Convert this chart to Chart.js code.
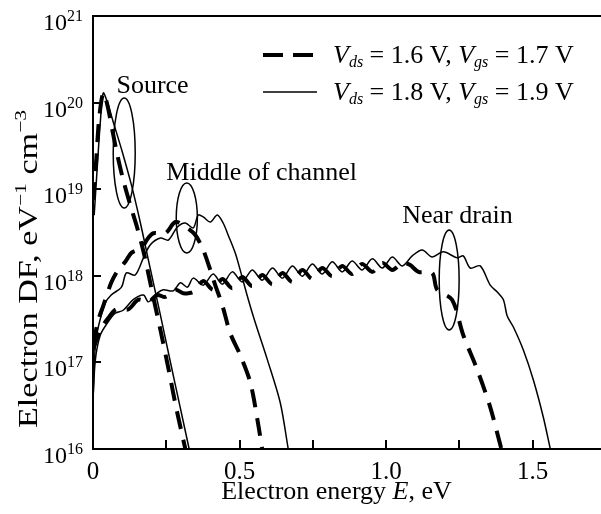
<!DOCTYPE html>
<html><head><meta charset="utf-8">
<script src="https://cdn.jsdelivr.net/npm/chart.js@4.4.1/dist/chart.umd.min.js"></script>
<style>
html,body{margin:0;padding:0;background:#fff;overflow:hidden;width:601px;height:514px}
#wrap{position:absolute;left:0;top:0;width:606px;height:514px}
</style>
</head><body><div id="wrap"><canvas id="c" width="606" height="514"></canvas></div>
<script>
// ---------------- data ----------------
const seriesLabels = ['V_ds = 1.6 V, V_gs = 1.7 V', 'V_ds = 1.8 V, V_gs = 1.9 V'];

// Source, dashed (Vds=1.6, Vgs=1.7)
const sourceDashedE  = [0, 0.011, 0.021, 0.035, 0.049, 0.066, 0.083, 0.103, 0.127, 0.151, 0.175, 0.202, 0.230, 0.257, 0.284, 0.315];
const sourceDashedDF = [7.5e18, 2.17e19, 6.6e19, 1.29e20, 9.4e19, 4.8e19, 2.48e19, 1.28e19, 6.6e18, 3.57e18, 1.74e18, 6.5e17, 2.37e17, 8.6e16, 2.97e16, 1e16];

// Source, solid (Vds=1.8, Vgs=1.9)
const sourceSolidE  = [0.004, 0.015, 0.025, 0.035, 0.052, 0.069, 0.100, 0.131, 0.161, 0.189, 0.230, 0.264, 0.298, 0.328];
const sourceSolidDF = [5.0e18, 1.9e19, 5.97e19, 1.29e20, 9.4e19, 5.97e19, 2.69e19, 1.12e19, 4.18e18, 1.52e18, 3.52e17, 1.01e17, 2.97e16, 1e16];

// Middle of channel, dashed
const middleDashedE  = [0, 0.018, 0.035, 0.062, 0.086, 0.110, 0.131, 0.165, 0.189, 0.206, 0.247, 0.281, 0.315, 0.349, 0.376, 0.400, 0.417, 0.441, 0.468, 0.502, 0.537, 0.564, 0.577];
const middleDashedDF = [1.59e17, 3.09e17, 4.5e17, 8.3e17, 1.17e18, 1.45e18, 1.84e18, 2.1e18, 2.75e18, 3.1e18, 3.1e18, 4.18e18, 3.7e18, 2.96e18, 1.99e18, 1.17e18, 7.8e17, 4.6e17, 2.18e17, 1.22e17, 5.8e16, 1.89e16, 1e16];

// Middle of channel, solid
const middleSolidE  = [0, 0.008, 0.018, 0.042, 0.062, 0.097, 0.114, 0.144, 0.172, 0.195, 0.230, 0.257, 0.288, 0.315, 0.342, 0.359, 0.376, 0.400, 0.424, 0.444, 0.461, 0.485, 0.502, 0.530, 0.554, 0.595, 0.639, 0.666];
const middleSolidDF = [3.7e16, 1.59e17, 2.56e17, 4.85e17, 6.0e17, 7.4e17, 1.08e18, 1.02e18, 1.61e18, 2.27e18, 2.73e18, 2.59e18, 3.66e18, 4.07e18, 3.57e18, 5.04e18, 4.78e18, 4.18e18, 5.04e18, 4.07e18, 2.96e18, 1.84e18, 1.17e18, 5.3e17, 2.85e17, 1.07e17, 3.4e16, 1e16];

// Near drain, dashed
const drainDashedE  = [0, 0.025, 0.052, 0.079, 0.120, 0.155, 0.189, 0.219, 0.247, 0.281, 0.308, 0.342, 0.376, 0.410, 0.441, 0.475, 0.509, 0.543, 0.577, 0.612, 0.646, 0.680, 0.714, 0.748, 0.782, 0.816, 0.850, 0.884, 0.918, 0.953, 0.987, 1.021, 1.055, 1.082, 1.110, 1.157, 1.174, 1.225, 1.263, 1.311, 1.355, 1.393];
const drainDashedDF = [1.39e17, 2.37e17, 3.25e17, 4.1e17, 4.1e17, 5.3e17, 5.0e17, 6.0e17, 5.7e17, 6.9e17, 6.3e17, 6.5e17, 8.7e17, 6.9e17, 9.2e17, 7.2e17, 9.7e17, 7.6e17, 1.02e18, 8.0e17, 1.08e18, 8.5e17, 1.17e18, 9.2e17, 1.23e18, 9.9e17, 1.30e18, 1.05e18, 1.37e18, 1.11e18, 1.41e18, 1.17e18, 1.41e18, 1.33e18, 1.11e18, 1.08e18, 6.9e17, 5.3e17, 2.07e17, 8.2e16, 3.05e16, 1e16];

// Near drain, solid
const drainSolidE  = [0, 0.008, 0.025, 0.049, 0.076, 0.103, 0.137, 0.172, 0.189, 0.219, 0.240, 0.274, 0.298, 0.322, 0.342, 0.376, 0.410, 0.441, 0.475, 0.509, 0.543, 0.577, 0.612, 0.646, 0.680, 0.714, 0.748, 0.782, 0.816, 0.850, 0.884, 0.918, 0.953, 0.987, 1.021, 1.055, 1.089, 1.123, 1.157, 1.195, 1.243, 1.263, 1.287, 1.321, 1.355, 1.379, 1.400, 1.413, 1.434, 1.468, 1.502, 1.536, 1.560];
const drainSolidDF = [3.7e16, 1.07e17, 2.07e17, 2.85e17, 3.7e17, 4.0e17, 5.3e17, 6.0e17, 5.0e17, 6.3e17, 6.9e17, 6.7e17, 8.3e17, 7.4e17, 9.4e17, 7.8e17, 1.05e18, 8.0e17, 1.11e18, 8.5e17, 1.17e18, 8.9e17, 1.23e18, 9.4e17, 1.30e18, 9.9e17, 1.37e18, 1.05e18, 1.45e18, 1.11e18, 1.48e18, 1.17e18, 1.57e18, 1.23e18, 1.65e18, 1.30e18, 1.70e18, 1.99e18, 1.65e18, 1.89e18, 1.61e18, 1.70e18, 1.23e18, 1.30e18, 7.8e17, 6.5e17, 5.3e17, 3.43e17, 2.56e17, 1.39e17, 6.3e16, 2.34e16, 1e16];

// axes
const yTickExponents = [16, 17, 18, 19, 20, 21];
const xTickValues = [0, 0.25, 0.5, 0.75, 1.0, 1.25, 1.5];
const xLabelValues = [0, 0.5, 1.0, 1.5];
const xLabelTexts = ['0', '0.5', '1.0', '1.5'];

// annotations (text anchor in data units; ellipses as data bounds)
const annotationTexts = ['Source', 'Middle of channel', 'Near drain'];
const annotationE  = [0.080, 0.250, 1.055];
const annotationDF = [1.29e20, 1.28e19, 4.07e18];
const ellipseEMin  = [0.069, 0.284, 1.181];
const ellipseEMax  = [0.144, 0.356, 1.249];
const ellipseDFMin = [6.07e18, 1.83e18, 2.37e17];
const ellipseDFMax = [1.13e20, 1.18e19, 3.38e18];

// ---------------- drawing ----------------
const SERIF = '"Liberation Serif", "Times New Roman", serif';
function pts(E, V) { return E.map((e, i) => ({ x: e, y: V[i] })); }
const solidStyle  = { borderColor: '#000', borderWidth: 1.5, pointRadius: 0, tension: 0.3, fill: false };
const dashedStyle = { borderColor: '#000', borderWidth: 4, borderDash: [18, 11], pointRadius: 0, tension: 0.3, fill: false };

function font(size, italic) { return (italic ? 'italic ' : '') + size + 'px ' + SERIF; }
function richWidth(ctx, parts) {
  let w = 0;
  for (const p of parts) { ctx.font = p.f; w += ctx.measureText(p.t).width; }
  return w;
}
function drawRich(ctx, x, y, parts) {
  for (const p of parts) {
    ctx.font = p.f;
    ctx.fillText(p.t, x, y + (p.dy || 0));
    x += ctx.measureText(p.t).width;
  }
}

const decor = {
  id: 'decor',
  afterDraw(chart) {
    const ctx = chart.ctx;
    const xs = chart.scales.x, ys = chart.scales.y;
    const area = chart.chartArea;
    ctx.save();
    ctx.fillStyle = '#000';
    ctx.strokeStyle = '#000';

    // top frame line
    ctx.lineWidth = 2;
    ctx.beginPath();
    ctx.moveTo(area.left - 1, area.top);
    ctx.lineTo(area.right, area.top);
    ctx.stroke();

    // inward ticks
    ctx.lineWidth = 2;
    for (const v of xTickValues) {
      if (v === 0) continue;
      const px = Math.round(xs.getPixelForValue(v));
      ctx.beginPath(); ctx.moveTo(px, area.bottom); ctx.lineTo(px, area.bottom - 9); ctx.stroke();
    }
    for (const e of yTickExponents) {
      const py = Math.round(ys.getPixelForValue(Math.pow(10, e)));
      ctx.beginPath(); ctx.moveTo(area.left, py); ctx.lineTo(area.left + 8, py); ctx.stroke();
    }

    // y tick labels 10^n
    ctx.textBaseline = 'alphabetic';
    ctx.textAlign = 'left';
    for (const e of yTickExponents) {
      const py = ys.getPixelForValue(Math.pow(10, e));
      ctx.font = font(16); const supW = ctx.measureText(String(e)).width;
      ctx.font = font(24); const baseW = ctx.measureText('10').width;
      const xEnd = area.left - 10;
      ctx.font = font(24); ctx.fillText('10', xEnd - supW - baseW, py + 14);
      ctx.font = font(16); ctx.fillText(String(e), xEnd - supW, py + 5);
    }

    // x tick labels
    ctx.textAlign = 'center';
    ctx.font = font(25);
    xLabelValues.forEach((v, i) => {
      ctx.fillText(xLabelTexts[i], xs.getPixelForValue(v), area.bottom + 30);
    });

    // x title
    ctx.textAlign = 'left';
    const xt = [{ t: 'Electron energy ', f: font(26) }, { t: 'E', f: font(26, true) }, { t: ', eV', f: font(26) }];
    const xtw = richWidth(ctx, xt);
    drawRich(ctx, 336.5 - xtw / 2, area.bottom + 50, xt);

    // y title (rotated)
    const yt = [{ t: 'Electron DF, eV', f: font(27) }, { t: '\u22121', f: font(17), dy: -11 },
                { t: ' cm', f: font(27) }, { t: '\u22123', f: font(17), dy: -11 }];
    const ytw = richWidth(ctx, yt);
    const targetLen = 318;
    ctx.save();
    ctx.translate(37, 269);
    ctx.rotate(-Math.PI / 2);
    ctx.scale(targetLen / ytw, 1);
    drawRich(ctx, -ytw / 2, 0, yt);
    ctx.restore();

    // annotations
    ctx.font = font(26);
    annotationTexts.forEach((t, i) => {
      ctx.fillText(t, xs.getPixelForValue(annotationE[i]), ys.getPixelForValue(annotationDF[i]));
    });
    ctx.lineWidth = 1.5;
    for (let i = 0; i < ellipseEMin.length; i++) {
      const x1 = xs.getPixelForValue(ellipseEMin[i]), x2 = xs.getPixelForValue(ellipseEMax[i]);
      const y1 = ys.getPixelForValue(ellipseDFMax[i]), y2 = ys.getPixelForValue(ellipseDFMin[i]);
      ctx.beginPath();
      ctx.ellipse((x1 + x2) / 2, (y1 + y2) / 2, (x2 - x1) / 2, (y2 - y1) / 2, 0, 0, Math.PI * 2);
      ctx.stroke();
    }

    // legend
    const rows = [
      { style: dashedStyle, y: 55, parts: [{ t: 'V', f: font(26, true) }, { t: 'ds', f: font(16, true), dy: 4 }, { t: ' = 1.6 V, ', f: font(26) }, { t: 'V', f: font(26, true) }, { t: 'gs', f: font(16, true), dy: 4 }, { t: ' = 1.7 V', f: font(26) }] },
      { style: solidStyle,  y: 92, parts: [{ t: 'V', f: font(26, true) }, { t: 'ds', f: font(16, true), dy: 4 }, { t: ' = 1.8 V, ', f: font(26) }, { t: 'V', f: font(26, true) }, { t: 'gs', f: font(16, true), dy: 4 }, { t: ' = 1.9 V', f: font(26) }] }
    ];
    for (const r of rows) {
      ctx.save();
      ctx.lineWidth = r.style.borderWidth;
      ctx.setLineDash(r.style.borderDash ? [20, 10] : []);
      ctx.beginPath(); ctx.moveTo(263, r.y); ctx.lineTo(317, r.y); ctx.stroke();
      ctx.restore();
      drawRich(ctx, 333, r.y + 8, r.parts);
    }
    ctx.restore();
  }
};

new Chart(document.getElementById('c').getContext('2d'), {
  type: 'line',
  data: {
    datasets: [
      Object.assign({ label: seriesLabels[0] + ' (source)', data: pts(sourceDashedE, sourceDashedDF) }, dashedStyle),
      Object.assign({ label: seriesLabels[1] + ' (source)', data: pts(sourceSolidE, sourceSolidDF) }, solidStyle),
      Object.assign({ label: seriesLabels[0] + ' (middle)', data: pts(middleDashedE, middleDashedDF) }, dashedStyle),
      Object.assign({ label: seriesLabels[1] + ' (middle)', data: pts(middleSolidE, middleSolidDF) }, solidStyle),
      Object.assign({ label: seriesLabels[0] + ' (drain)', data: pts(drainDashedE, drainDashedDF) }, dashedStyle),
      Object.assign({ label: seriesLabels[1] + ' (drain)', data: pts(drainSolidE, drainSolidDF) }, solidStyle)
    ]
  },
  options: {
    responsive: false, animation: false, devicePixelRatio: 1,
    layout: { padding: { top: 16, right: 0, left: 0, bottom: 0 } },
    plugins: { legend: { display: false }, tooltip: { enabled: false } },
    scales: {
      x: { type: 'linear', min: 0, max: 1.75, grid: { display: false },
           border: { display: true, color: '#000', width: 2 }, ticks: { display: false },
           afterFit(s) { s.height = 65; } },
      y: { type: 'logarithmic', min: 1e16, max: 1e21, grid: { display: false },
           border: { display: true, color: '#000', width: 2 }, ticks: { display: false },
           afterFit(s) { s.width = 93; } }
    }
  },
  plugins: [decor]
});
</script>
</body></html>
